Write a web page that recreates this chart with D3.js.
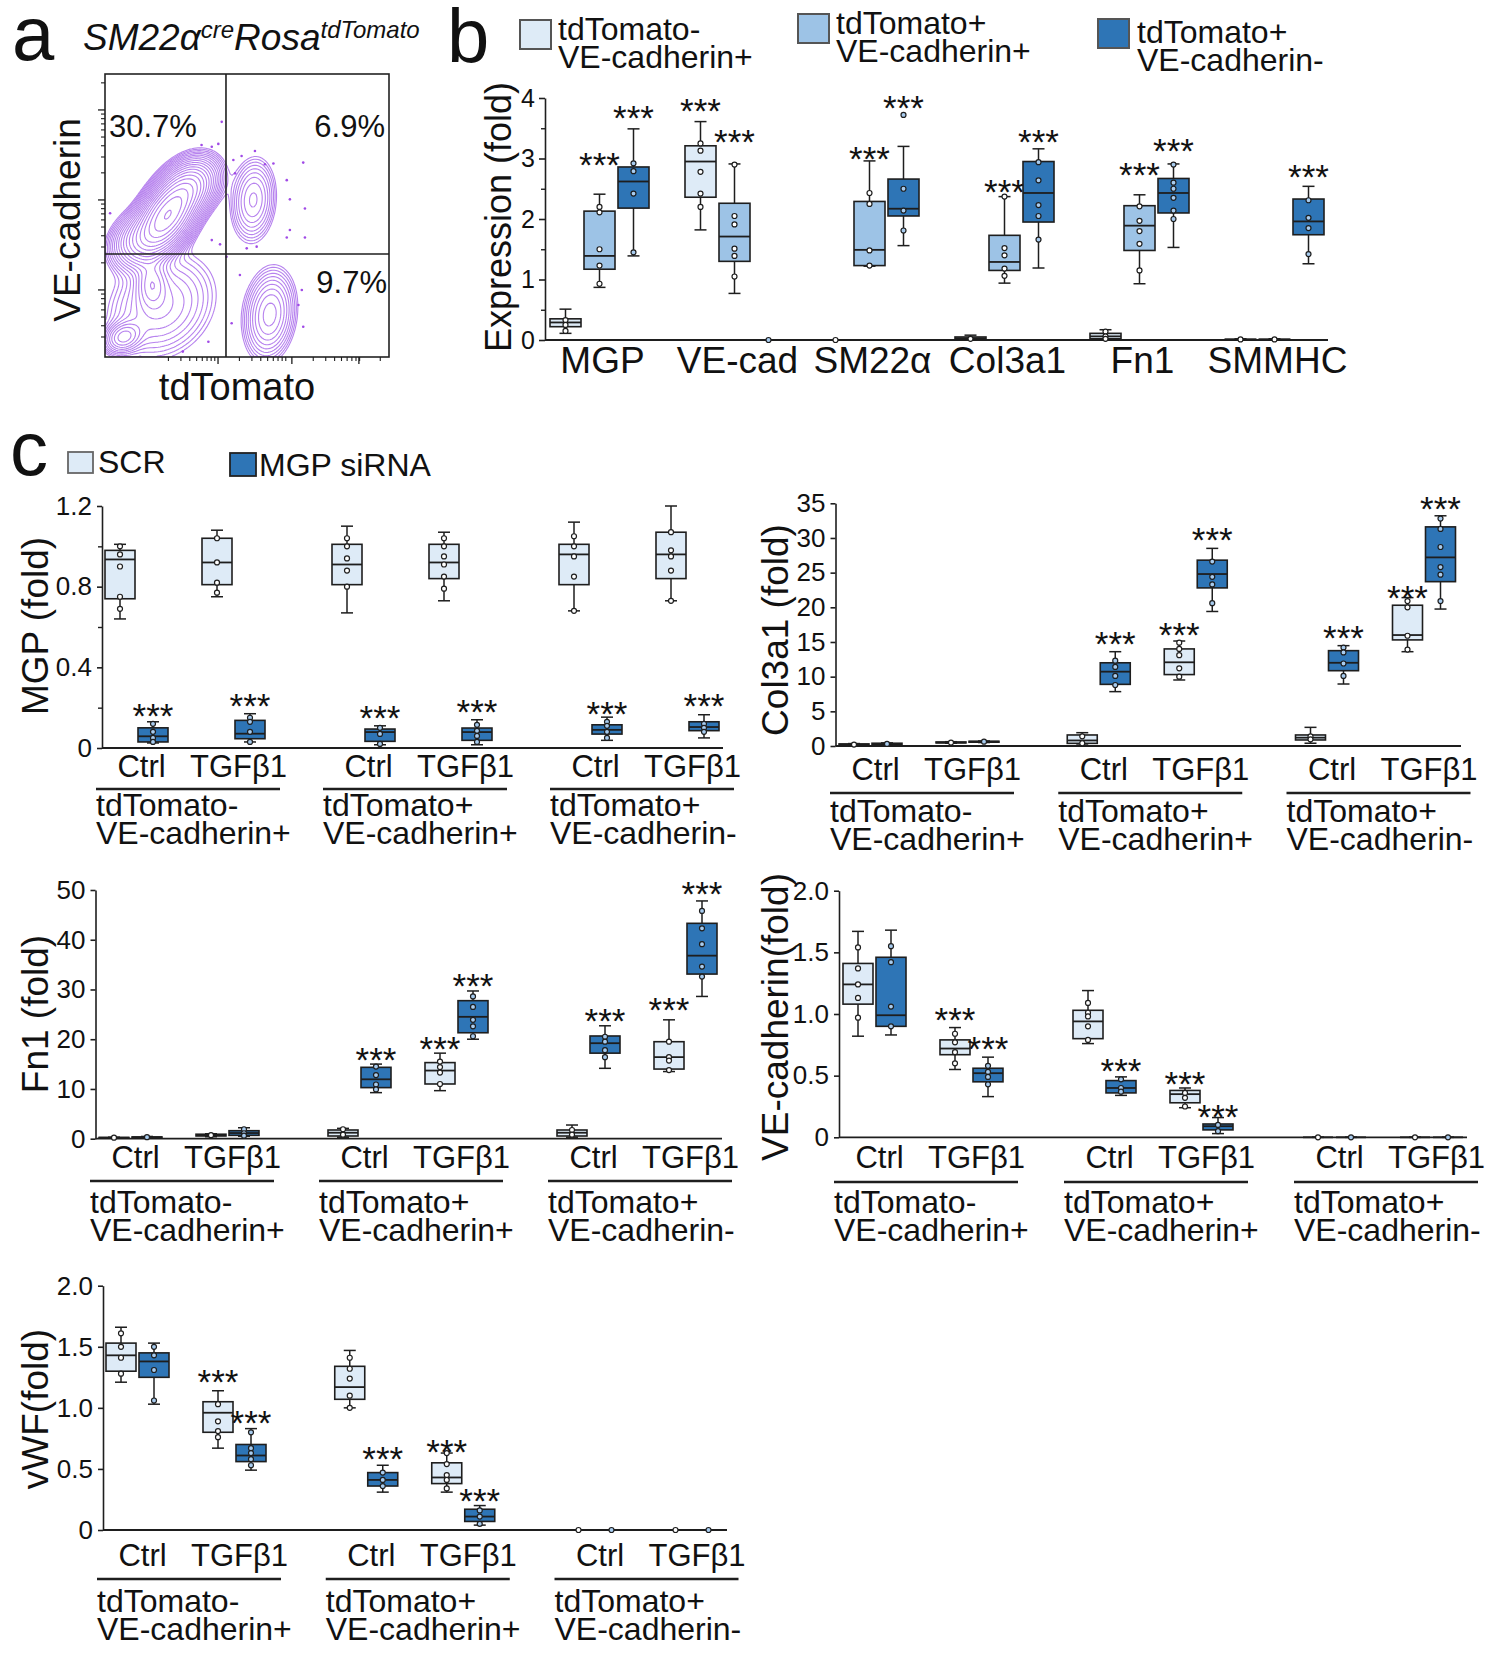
<!DOCTYPE html>
<html>
<head>
<meta charset="utf-8">
<script src="https://cdn.jsdelivr.net/npm/d3@7"></script>
<style>
body { margin: 0; background: #fff; }
svg { display: block; }
</style>
</head>
<body>
<svg id="fig" width="1500" height="1656"></svg>
<script>
const FONT = '"Liberation Sans", Arial, sans-serif';
const LIGHT = "#deebf7", MID = "#9dc3e6", DARK = "#2e75b6", INK = "#1e1e1e";

// ---------- panel a : flow populations (axis fractions) ----------
// [centre x, centre y, sd x, sd y, correlation, weight]
const flowPops = [
	[0.22, 0.50, 0.055, 0.07, 0.55, 1.0],
	[0.30, 0.60, 0.05, 0.05, 0.3, 0.25],
	[0.12, 0.42, 0.05, 0.05, 0.3, 0.15],
	[0.522, 0.555, 0.04, 0.075, 0.1, 0.065],
	[0.58, 0.15, 0.045, 0.08, 0.15, 0.09],
	[0.065, 0.07, 0.035, 0.03, 0.2, 0.08],
	[0.165, 0.26, 0.03, 0.05, 0.0, 0.07],
	[0.2, 0.18, 0.1, 0.1, 0.2, 0.05]
];
const flowEvents = [
	[0.411, 0.831], [0.340, 0.749], [0.376, 0.743], [0.399, 0.753], [0.452, 0.696],
	[0.481, 0.710], [0.528, 0.728], [0.563, 0.681], [0.593, 0.684], [0.698, 0.687],
	[0.458, 0.649], [0.640, 0.625], [0.651, 0.557], [0.704, 0.525], [0.651, 0.449],
	[0.704, 0.422], [0.640, 0.422], [0.534, 0.390], [0.499, 0.384], [0.405, 0.398],
	[0.376, 0.413], [0.018, 0.508], [0.475, 0.290], [0.693, 0.237], [0.681, 0.184],
	[0.698, 0.107], [0.274, 0.019], [0.364, 0.054], [0.428, 0.354], [0.446, 0.119]
];
const flowGate = [0.426, 0.364];
const flowQuad = ["30.7%", "6.9%", "9.7%"];
const flowXMajor = [0.398, 0.658, 0.894];
const flowYMajor = [0.237, 0.555, 0.873];

// ---------- panel b ----------
const bGenes = ["MGP", "VE-cad", "SM22α", "Col3a1", "Fn1", "SMMHC"];
const bPops = ["tdTomato-|VE-cadherin+", "tdTomato+|VE-cadherin+", "tdTomato+|VE-cadherin-"];
// [low whisker, q1, median, q3, high whisker]
const bLight = [[0.11,0.22,0.29,0.35,0.51],[1.82,2.36,2.95,3.21,3.61],[0,0,0,0,0],[0,0.02,0.03,0.05,0.08],[0,0.02,0.06,0.11,0.17],[0,0,0.01,0.01,0.02]];
const bLightPts = [[0.33,0.25,0.15],[3.25,3.13,2.78,2.42,2.2],[0],[0.02],[0.14,0.06,0.02],[0.01]];
const bMid = [[0.87,1.17,1.39,2.13,2.41],[0.77,1.3,1.71,2.26,2.91],[1.22,1.23,1.49,2.29,2.96],[0.94,1.15,1.29,1.73,2.37],[0.93,1.48,1.89,2.22,2.4],[0,0,0.01,0.01,0.02]];
const bMidPts = [[2.2,2.11,1.5,1.23,0.93],[2.9,2.05,1.91,1.51,1.39,1.05],[2.43,2.25,1.48,1.23],[2.37,1.52,1.4,1.18,1.06],[2.21,1.97,1.8,1.59,1.15],[0.01]];
const bDark = [[1.39,2.18,2.62,2.86,3.49],[0,0,0,0,0],[1.56,2.05,2.17,2.66,3.2],[1.19,1.95,2.43,2.95,3.16],[1.53,2.1,2.43,2.67,2.91],[1.26,1.74,1.96,2.33,2.54]];
const bDarkPts = [[2.92,2.79,2.42,1.45],[0],[3.72,2.5,2.14,1.81],[2.94,2.64,2.23,2.05,1.66],[2.9,2.6,2.5,2.35,2.14,2.0],[2.31,2.02,1.85,1.42]];
const bLightStars = [null, 3.92, null, null, null, null];
const bMidStars = [3.02, 3.40, 3.13, 2.58, 2.86, null];
const bDarkStars = [3.80, null, 3.97, 3.40, 3.26, 2.83];

// ---------- panel c ----------
const cGroups = ["tdTomato-|VE-cadherin+", "tdTomato+|VE-cadherin+", "tdTomato+|VE-cadherin-"];
const cConds = ["Ctrl", "TGFβ1"];
const cTreats = ["SCR", "MGP siRNA"];
// order: g1 Ctrl, g1 TGFβ1, g2 Ctrl, g2 TGFβ1, g3 Ctrl, g3 TGFβ1
const mgpScr = [[0.64,0.74,0.935,0.98,1.01],[0.75,0.81,0.92,1.04,1.08],[0.67,0.81,0.91,1.01,1.10],[0.73,0.84,0.92,1.01,1.07],[0.68,0.81,0.96,1.01,1.12],[0.73,0.84,0.96,1.07,1.20]];
const mgpScrPts = [[1.0,0.96,0.90,0.75,0.69],[1.04,0.92,0.82,0.77],[1.04,1.0,0.94,0.88,0.80],[1.04,1.0,0.95,0.91,0.85,0.79],[1.05,1.0,0.95,0.85,0.68],[1.07,0.98,0.95,0.88,0.73]];
const mgpSi = [[0.025,0.03,0.058,0.10,0.13],[0.03,0.046,0.071,0.137,0.17],[0.016,0.033,0.079,0.094,0.11],[0.016,0.038,0.079,0.099,0.14],[0.038,0.069,0.09,0.115,0.153],[0.05,0.086,0.104,0.13,0.165]];
const mgpSiPts = [[0.12,0.08,0.05,0.03],[0.15,0.13,0.08,0.03],[0.1,0.07,0.02],[0.115,0.085,0.06,0.03],[0.13,0.11,0.08,0.05],[0.12,0.1,0.08]];
const mgpScrStars = [null,null,null,null,null,null];
const mgpSiStars = [0.2,0.25,0.19,0.22,0.21,0.25];

const colScr = [[0.1,0.15,0.2,0.3,0.35],[0.4,0.45,0.5,0.58,0.62],[0.14,0.38,0.8,1.59,1.92],[9.52,10.3,12.07,14.0,15.14],[0.4,0.87,1.2,1.59,2.69],[13.6,15.3,16.0,20.3,21.4]];
const colScrPts = [[0.2],[0.5],[1.4,0.4],[14.9,14.0,13.1,11.2,10.0],[1.4,0.96],[20.9,20.0,15.9,13.9]];
const colSi = [[0.2,0.25,0.3,0.4,0.45],[0.5,0.55,0.62,0.68,0.72],[7.84,8.89,10.72,12.0,13.6],[19.4,22.8,24.8,26.8,28.5],[8.94,10.86,12.0,13.75,14.47],[19.75,23.7,27.2,31.6,33.2]];
const colSiPts = [[0.3],[0.62],[12.3,11.4,10.1,8.8],[26.6,24.4,23.3,20.6],[14.2,13.5,11.9,10.1],[32.8,31.3,28.7,25.8,24.7,20.9]];
const colScrStars = [null,null,null,17.1,null,22.5];
const colSiStars = [null,null,15.8,30.9,16.7,35.4];

const fnScr = [[0.1,0.15,0.2,0.25,0.3],[0.4,0.55,0.7,0.9,1.0],[0.3,0.54,1.2,1.75,2.08],[9.66,11.0,13.7,15.3,17.2],[0.3,0.54,1.2,1.75,2.75],[13.5,14.0,16.4,19.5,23.9]];
const fnScrPts = [[0.2],[0.7],[1.9,0.8],[15.5,14.4,13.3,11.0],[1.75,0.8],[19.5,16.4,15.7,13.8]];
const fnSi = [[0.15,0.2,0.3,0.35,0.45],[0.5,0.67,1.14,1.61,2.2],[9.26,10.27,11.94,14.35,15.0],[20.0,21.3,24.5,27.75,29.7],[14.15,17.2,19.2,20.65,22.7],[28.6,33.1,36.8,43.3,47.8]];
const fnSiPts = [[0.3],[1.9,1.1,0.6],[14.5,12.8,10.9,9.9],[28.6,26.5,23.9,22.6,20.6],[20.5,19.5,17.8,16.4],[45.8,42.3,39.1,34.6,32.6]];
const fnScrStars = [null,null,null,19.6,null,27.5];
const fnSiStars = [null,null,17.5,32.3,25.2,50.8];

const veScr = [[0.82,1.08,1.24,1.41,1.67],[0.55,0.67,0.72,0.79,0.89],[0.76,0.8,0.94,1.03,1.19],[0.24,0.28,0.35,0.38,0.4],[0,0,0,0,0],[0,0,0,0,0]];
const veScrPts = [[1.54,1.37,1.24,1.13,0.97],[0.84,0.77,0.69,0.6],[1.09,1.01,0.98,0.9,0.79],[0.36,0.32,0.25],[0],[0]];
const veSi = [[0.83,0.9,0.99,1.46,1.68],[0.33,0.45,0.52,0.56,0.65],[0.34,0.36,0.4,0.46,0.49],[0.03,0.06,0.09,0.108,0.16],[0,0,0,0,0],[0,0,0,0,0]];
const veSiPts = [[1.55,1.42,1.06,0.9],[0.58,0.53,0.49,0.43],[0.47,0.4,0.37],[0.1,0.05],[0],[0]];
const veScrStars = [null,1.02,null,0.5,null,null];
const veSiStars = [null,0.78,0.6,0.23,null,null];

const vwfScr = [[1.21,1.3,1.43,1.53,1.66],[0.67,0.8,0.96,1.05,1.14],[1.0,1.07,1.17,1.34,1.47],[0.31,0.38,0.43,0.55,0.63],[0,0,0,0,0],[0,0,0,0,0]];
const vwfScrPts = [[1.61,1.5,1.41,1.28],[1.03,0.89,0.81,0.76],[1.41,1.32,1.24,1.1,1.0],[0.63,0.54,0.45,0.41,0.34],[0],[0]];
const vwfSi = [[1.03,1.25,1.38,1.45,1.53],[0.49,0.56,0.61,0.7,0.83],[0.31,0.36,0.41,0.47,0.53],[0.04,0.07,0.11,0.17,0.2],[0,0,0,0,0],[0,0,0,0,0]];
const vwfSiPts = [[1.5,1.43,1.31,1.06],[0.8,0.67,0.63,0.58,0.53],[0.47,0.41,0.36],[0.16,0.11,0.05],[0],[0]];
const vwfScrStars = [null,1.28,null,0.7,null,null];
const vwfSiStars = [null,0.94,0.65,0.3,null,null];

const svg = d3.select("#fig");
svg.append("rect").attr("width", 1500).attr("height", 1656).attr("fill", "#fff");

function txt(g, x, y, s, size, anchor) {
	return g.append("text").attr("x", x).attr("y", y)
		.attr("font-family", FONT).attr("font-size", size)
		.attr("text-anchor", anchor || "start").attr("fill", "#111").text(s);
}
function txt2(g, x, y, lines, size, gap) { // two-line label in one text element
	const t = g.append("text").attr("x", x).attr("y", y)
		.attr("font-family", FONT).attr("font-size", size).attr("fill", "#111");
	lines.forEach((s, i) => t.append("tspan").attr("x", x).attr("dy", i ? gap : 0).text(s));
	return t;
}
function vtxt(g, x, y, s, size) { // rotated axis title, centred at y
	return g.append("text").attr("transform", "translate(" + x + "," + y + ") rotate(-90)")
		.attr("font-family", FONT).attr("font-size", size)
		.attr("text-anchor", "middle").attr("fill", "#111").text(s);
}
function line(g, x1, y1, x2, y2, w) {
	return g.append("line").attr("x1", x1).attr("y1", y1).attr("x2", x2).attr("y2", y2)
		.attr("stroke", INK).attr("stroke-width", w || 1.6);
}
function drawBox(g, cx, y, st, pts, fill, bw) {
	const [lo, q1, md, q3, hi] = st;
	line(g, cx, y(hi), cx, y(lo), 1.5);
	line(g, cx - 6, y(lo), cx + 6, y(lo), 1.5);
	line(g, cx - 6, y(hi), cx + 6, y(hi), 1.5);
	g.append("rect").attr("x", cx - bw / 2).attr("y", y(q3))
		.attr("width", bw).attr("height", Math.max(0, y(q1) - y(q3)))
		.attr("fill", fill).attr("stroke", INK).attr("stroke-width", 1.6);
	line(g, cx - bw / 2, y(md), cx + bw / 2, y(md), 1.8);
	g.selectAll(null).data(pts).join("circle")
		.attr("cx", cx).attr("cy", (d) => y(d)).attr("r", 2.5)
		.attr("fill", fill === DARK ? "#a8ccef" : "#fff")
		.attr("stroke", INK).attr("stroke-width", 1.2);
}
function stars(g, cx, v, y) {
	if (v === null) return;
	txt(g, cx, y(v) + 20, "***", 35, "middle");
}

// ================= panel a =================
function drawFlow() {
	const g = svg.append("g");
	const x = d3.scaleLinear().domain([0, 1]).range([105, 389]);
	const y = d3.scaleLinear().domain([0, 1]).range([357, 74]);

	txt(g, 12, 60, "a", 76);
	let t = g.append("text").attr("x", 83).attr("y", 50).attr("font-family", FONT)
		.attr("font-style", "italic").attr("font-size", 37).attr("fill", "#111");
	t.append("tspan").text("SM22α");
	t.append("tspan").attr("font-size", 24).attr("dy", -12).text("cre");
	t.append("tspan").attr("dy", 12).text("Rosa");
	t.append("tspan").attr("font-size", 24).attr("dy", -12).text("tdTomato");

	svg.append("clipPath").attr("id", "flowclip").append("rect")
		.attr("x", 105).attr("y", 74).attr("width", 284).attr("height", 283);

	const nx = 142, ny = 142;
	const vals = new Float64Array(nx * ny);
	for (let j = 0; j < ny; j++) {
		for (let i = 0; i < nx; i++) {
			const fx = (i + 0.5) / nx, fy = 1 - (j + 0.5) / ny;
			let s = 0;
			flowPops.forEach((p) => {
				const dx = (fx - p[0]) / p[2], dy = (fy - p[1]) / p[3], r = p[4];
				s += p[5] * Math.exp(-0.5 * (dx * dx - 2 * r * dx * dy + dy * dy) / (1 - r * r));
			});
			vals[j * nx + i] = s;
		}
	}
	const levels = d3.range(20).map((k) => 0.008 * Math.pow(1.29, k));
	const cont = d3.contours().size([nx, ny]).thresholds(levels)(vals);
	const proj = d3.geoTransform({
		point: function(px, py) { this.stream.point(x(px / nx), y(1 - py / ny)); }
	});
	const cg = g.append("g").attr("clip-path", "url(#flowclip)");
	cg.selectAll("path").data(cont).join("path")
		.attr("d", d3.geoPath(proj)).attr("fill", "none")
		.attr("stroke", "#b783ee").attr("stroke-width", 1.1);
	cg.selectAll("circle").data(flowEvents).join("circle")
		.attr("cx", (d) => x(d[0])).attr("cy", (d) => y(d[1])).attr("r", 1.3)
		.attr("fill", "#a04ae6");

	g.append("rect").attr("x", 105).attr("y", 74).attr("width", 284).attr("height", 283)
		.attr("fill", "none").attr("stroke", "#222").attr("stroke-width", 1.6);
	line(g, x(flowGate[0]), 74, x(flowGate[0]), 357, 1.6);
	line(g, 105, y(flowGate[1]), 389, y(flowGate[1]), 1.6);

	// logicle-style ticks
	const minor = (majors, dec) => {
		const out = [];
		majors.forEach((m) => d3.range(2, 10).forEach((k) => {
			const v = m + Math.log10(k) * dec;
			if (v < 1) out.push(v);
		}));
		d3.range(2, 10).forEach((k) => {
			const v = majors[0] - dec + Math.log10(k) * dec;
			if (v > 0.03) out.push(v);
		});
		return out;
	};
	flowYMajor.forEach((v) => line(g, 98, y(v), 105, y(v), 1.3));
	minor(flowYMajor, 0.318).forEach((v) => line(g, 101, y(v), 105, y(v), 1.1));
	flowXMajor.forEach((v) => line(g, x(v), 357, x(v), 364, 1.3));
	minor(flowXMajor, 0.25).forEach((v) => line(g, x(v), 357, x(v), 361, 1.1));

	txt(g, 109, 137, flowQuad[0], 31);
	txt(g, 385, 137, flowQuad[1], 31, "end");
	txt(g, 387, 293, flowQuad[2], 31, "end");
	vtxt(g, 80, 220, "VE-cadherin", 37);
	txt(g, 237, 400, "tdTomato", 38, "middle");
}

// ================= panel b =================
function drawB() {
	const g = svg.append("g");
	const x = d3.scaleBand().domain(bGenes).range([532, 1342]);
	const sub = d3.scalePoint().domain(bPops).range([-34, 34]);
	const y = d3.scaleLinear().domain([0, 4]).range([340, 98]);

	txt(g, 447, 62, "b", 76);
	const legend = [[520, 20, 558, 40], [798, 14, 836, 34], [1098, 19, 1137, 43]];
	const fills = [LIGHT, MID, DARK];
	bPops.forEach((p, i) => {
		const L = legend[i];
		g.append("rect").attr("x", L[0]).attr("y", L[1]).attr("width", 31).attr("height", 29)
			.attr("fill", fills[i]).attr("stroke", "#555").attr("stroke-width", 2);
		txt2(g, L[2], L[3], p.split("|"), 32, 28);
	});

	const ax = g.append("g").attr("transform", "translate(545,0)")
		.call(d3.axisLeft(y).tickValues([0, 1, 2, 3, 4]).tickFormat(d3.format("d"))
			.tickSize(6).tickSizeOuter(0).tickPadding(4));
	ax.attr("font-family", FONT).attr("font-size", 25);
	ax.selectAll("path,line").attr("stroke", INK).attr("stroke-width", 1.6);
	ax.selectAll("text").attr("fill", "#111");
	const mn = g.append("g").attr("transform", "translate(545,0)")
		.call(d3.axisLeft(y).tickValues([0.5, 1.5, 2.5, 3.5]).tickFormat("").tickSize(4).tickSizeOuter(0));
	mn.select(".domain").remove();
	mn.selectAll("line").attr("stroke", INK).attr("stroke-width", 1.4);
	line(g, 545, y(0), 1328, y(0), 1.8);

	vtxt(g, 511, 217, "Expression (fold)", 36);

	const sets = [[bLight, bLightPts, bLightStars, LIGHT], [bMid, bMidPts, bMidStars, MID], [bDark, bDarkPts, bDarkStars, DARK]];
	bGenes.forEach((gene, gi) => {
		const cx0 = x(gene) + x.bandwidth() / 2;
		sets.forEach((s, si) => {
			const cx = cx0 + sub(bPops[si]);
			drawBox(g, cx, y, s[0][gi], s[1][gi], s[3], 31);
			stars(g, cx, s[2][gi], y);
		});
		txt(g, cx0 + 3, 373, gene, 37, "middle");
	});
}

// ================= panel c =================
function drawC(cfg) {
	const g = svg.append("g");
	const y = d3.scaleLinear().domain([0, cfg.max]).range(cfg.yRange);
	const xg = d3.scalePoint().domain(cGroups).range(cfg.gRange);
	const xc = d3.scalePoint().domain(cConds).range([-48.5, 48.5]);
	const xt = d3.scalePoint().domain(cTreats).range([-16.5, 16.5]);

	const ax = g.append("g").attr("transform", "translate(" + cfg.xRange[0] + ",0)")
		.call(d3.axisLeft(y).tickValues(cfg.ticks).tickFormat((d, i) => cfg.labels[i])
			.tickSize(5).tickSizeOuter(0).tickPadding(5));
	ax.attr("font-family", FONT).attr("font-size", 26);
	ax.selectAll("path,line").attr("stroke", INK).attr("stroke-width", 1.6);
	ax.selectAll("text").attr("fill", "#111");
	if (cfg.minor.length) {
		const mn = g.append("g").attr("transform", "translate(" + cfg.xRange[0] + ",0)")
			.call(d3.axisLeft(y).tickValues(cfg.minor).tickFormat("").tickSize(4).tickSizeOuter(0));
		mn.select(".domain").remove();
		mn.selectAll("line").attr("stroke", INK).attr("stroke-width", 1.4);
	}
	line(g, cfg.xRange[0], y(0), cfg.xRange[1], y(0), 1.8);
	vtxt(g, cfg.ylx, cfg.yly, cfg.ylabel, 37);

	const series = [[cfg.scr, cfg.scrPts, cfg.scrStars, LIGHT], [cfg.si, cfg.siPts, cfg.siStars, DARK]];
	cGroups.forEach((grp, gi) => {
		const gc = xg(grp);
		cConds.forEach((c, ci) => {
			const idx = gi * 2 + ci;
			series.forEach((s, ti) => {
				const cx = gc + xc(c) + xt(cTreats[ti]);
				drawBox(g, cx, y, s[0][idx], s[1][idx], s[3], 30);
				stars(g, cx, s[2][idx], y);
			});
			txt(g, gc + xc(c) + 5, cfg.ctrlY, c, 31, "middle");
		});
		const u0 = gc + 3 - 92;
		line(g, u0, cfg.ulY, u0 + 184, cfg.ulY, 2.6);
		txt2(g, u0, cfg.glY, grp.split("|"), 32, 27.5);
	});
}

drawFlow();
drawB();

// panel c letter and legend
const lg = svg.append("g");
txt(lg, 10, 475, "c", 76);
lg.append("rect").attr("x", 68).attr("y", 452).attr("width", 25).attr("height", 21)
	.attr("fill", LIGHT).attr("stroke", "#666").attr("stroke-width", 1.8);
txt(lg, 98, 473, cTreats[0], 32);
lg.append("rect").attr("x", 230).attr("y", 453).attr("width", 26).attr("height", 23)
	.attr("fill", DARK).attr("stroke", "#222").attr("stroke-width", 1.8);
txt(lg, 259, 476, cTreats[1], 32);

drawC({ max: 1.2, yRange: [748, 506], xRange: [102, 723], gRange: [185, 639],
	ticks: [0, 0.4, 0.8, 1.2], labels: ["0", "0.4", "0.8", "1.2"], minor: [0.2, 0.6, 1.0],
	ylabel: "MGP (fold)", ylx: 48, yly: 626, ctrlY: 777, ulY: 789, glY: 816,
	scr: mgpScr, scrPts: mgpScrPts, scrStars: mgpScrStars, si: mgpSi, siPts: mgpSiPts, siStars: mgpSiStars });
drawC({ max: 35, yRange: [746, 503.3], xRange: [835.5, 1461], gRange: [919, 1375.5],
	ticks: [0, 5, 10, 15, 20, 25, 30, 35], labels: ["0", "5", "10", "15", "20", "25", "30", "35"], minor: [],
	ylabel: "Col3a1 (fold)", ylx: 788, yly: 630, ctrlY: 780, ulY: 793, glY: 822,
	scr: colScr, scrPts: colScrPts, scrStars: colScrStars, si: colSi, siPts: colSiPts, siStars: colSiStars });
drawC({ max: 50, yRange: [1138.7, 890], xRange: [95.5, 722], gRange: [179, 637],
	ticks: [0, 10, 20, 30, 40, 50], labels: ["0", "10", "20", "30", "40", "50"], minor: [],
	ylabel: "Fn1 (fold)", ylx: 48, yly: 1014, ctrlY: 1168, ulY: 1181, glY: 1213,
	scr: fnScr, scrPts: fnScrPts, scrStars: fnScrStars, si: fnSi, siPts: fnSiPts, siStars: fnSiStars });
drawC({ max: 2, yRange: [1137.3, 890.7], xRange: [839, 1467], gRange: [923, 1383],
	ticks: [0, 0.5, 1, 1.5, 2], labels: ["0", "0.5", "1.0", "1.5", "2.0"], minor: [],
	ylabel: "VE-cadherin(fold)", ylx: 788, yly: 1017, ctrlY: 1168, ulY: 1182, glY: 1213,
	scr: veScr, scrPts: veScrPts, scrStars: veScrStars, si: veSi, siPts: veSiPts, siStars: veSiStars });
drawC({ max: 2, yRange: [1530, 1285.7], xRange: [103, 727], gRange: [186, 643.5],
	ticks: [0, 0.5, 1, 1.5, 2], labels: ["0", "0.5", "1.0", "1.5", "2.0"], minor: [],
	ylabel: "vWF(fold)", ylx: 48, yly: 1409, ctrlY: 1566, ulY: 1579, glY: 1612,
	scr: vwfScr, scrPts: vwfScrPts, scrStars: vwfScrStars, si: vwfSi, siPts: vwfSiPts, siStars: vwfSiStars });
</script>
</body>
</html>
